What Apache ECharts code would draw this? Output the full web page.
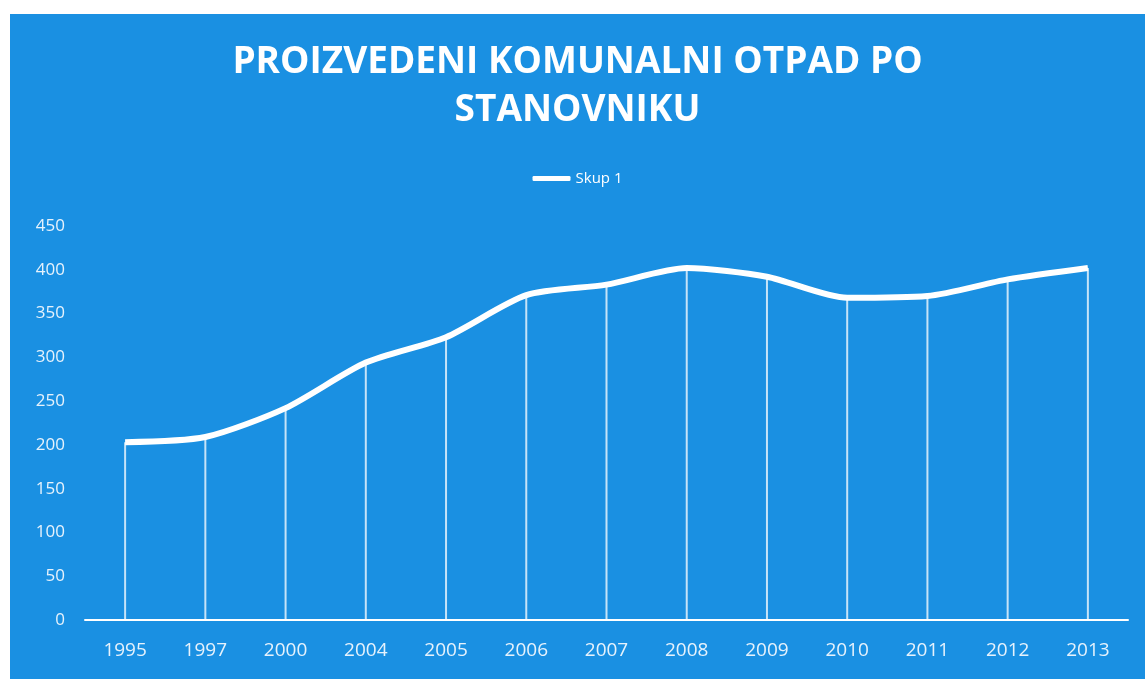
<!DOCTYPE html>
<html>
<head>
<meta charset="utf-8">
<script src="https://cdn.jsdelivr.net/npm/echarts@6/dist/echarts.min.js"></script>
<style>
  html, body { margin: 0; padding: 0; background: #fff; }
  #chart { position: absolute; left: 10px; top: 14px; width: 1135px; height: 665px; background: #1a90e2; }
</style>
</head>
<body>
<div id="chart"></div>
<script>
  // godine i vrijednosti (kg po stanovniku), ocitano sa slike
  var years = ['1995', '1997', '2000', '2004', '2005', '2006', '2007', '2008', '2009', '2010', '2011', '2012', '2013'];
  var values = [203, 209, 242, 294, 323, 371, 383, 402, 392, 368, 370, 389, 402];
  var yTicks = [0, 50, 100, 150, 200, 250, 300, 350, 400, 450];

  var myChart = echarts.init(document.getElementById('chart'));
  myChart.setOption({
    backgroundColor: '#1a90e2',
    title: {
      text: 'PROIZVEDENI KOMUNALNI OTPAD PO\nSTANOVNIKU',
      left: 'center',
      top: 19,
      textStyle: {
        color: '#fff',
        fontFamily: 'Open Sans',
        fontWeight: 'bold',
        fontSize: 37,
        lineHeight: 48
      }
    },
    legend: {
      data: ['Skup 1'],
      top: 152,
      left: 'center',
      icon: 'roundRect',
      itemWidth: 38,
      itemHeight: 5,
      itemGap: 4,
      textStyle: { color: '#fff', fontFamily: 'Open Sans', fontSize: 15 }
    },
    grid: {
      left: 75,
      right: 17,
      top: 212,
      bottom: 59
    },
    xAxis: {
      type: 'category',
      data: years,
      axisLine: { lineStyle: { color: '#fff', width: 2 } },
      axisTick: { show: false },
      axisLabel: { color: '#e6f2fc', fontFamily: 'Open Sans', fontSize: 19, margin: 21 }
    },
    yAxis: {
      type: 'value',
      min: 0,
      max: yTicks[yTicks.length - 1],
      interval: 50,
      axisLine: { show: false },
      axisTick: { show: false },
      splitLine: { show: false },
      axisLabel: { color: '#e6f2fc', fontFamily: 'Open Sans', fontSize: 17, margin: 20 }
    },
    series: [
      {
        name: 'drop',
        type: 'bar',
        data: values,
        barWidth: 2,
        silent: true,
        itemStyle: { color: 'rgba(255,255,255,0.75)' },
        z: 1
      },
      {
        name: 'Skup 1',
        type: 'line',
        data: values,
        smooth: 0.25,
        symbol: 'none',
        lineStyle: { color: '#fff', width: 6 },
        itemStyle: { color: '#fff' },
        z: 3
      }
    ]
  });
</script>
</body>
</html>
